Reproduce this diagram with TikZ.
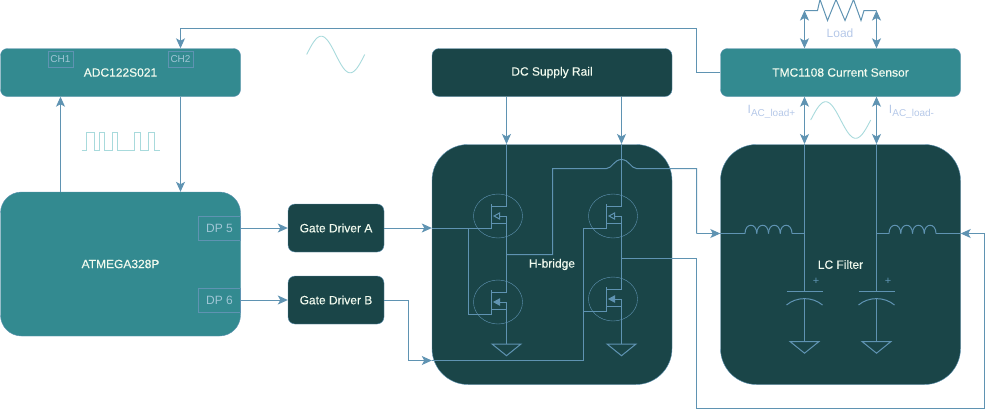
\documentclass[tikz,border=0pt]{standalone}
\usepackage{fontspec}
\setmainfont{Liberation Sans}
\newfontfamily\boxfont[FakeBold=0.25]{Liberation Sans}
\usepackage{tikz}
\usetikzlibrary{shapes.geometric, arrows.meta}
\definecolor{lightteal}{HTML}{338A90}
\definecolor{darkteal}{HTML}{1A4548}
\definecolor{wirecol}{HTML}{5F93B2}
\definecolor{wavecol}{HTML}{A8DADC}
\definecolor{labelcol}{HTML}{B5C8E8}
\definecolor{pincol}{HTML}{A0C6D6}
\definecolor{textcol}{HTML}{F1FAEE}
\tikzstyle{lightbox} = [rectangle, rounded corners=7pt, minimum width=240pt, minimum height=48pt, inner sep=0pt, text centered, draw=wirecol, fill=lightteal, text=textcol, font=\boxfont\fontsize{12}{14}\selectfont]
\tikzstyle{darkbox} = [lightbox, fill=darkteal]
\tikzstyle{mcubox} = [lightbox, rounded corners=21pt, minimum height=144pt]
\tikzstyle{driverbox} = [darkbox, minimum width=96pt]
\tikzstyle{stagebox} = [darkbox, rounded corners=36pt, minimum height=240pt]
\tikzstyle{pinbox} = [rectangle, minimum width=24.5pt, minimum height=15.5pt, inner sep=0pt, draw=wirecol, text=pincol, font=\fontsize{10}{12}\selectfont]
\tikzstyle{dpbox} = [pinbox, minimum width=42pt, minimum height=24.5pt, font=\fontsize{12}{14}\selectfont]
\tikzstyle{fetcircle} = [ellipse, minimum width=49pt, minimum height=44pt, inner sep=0pt, draw=wirecol]
\tikzstyle{loadtext} = [inner sep=0pt, text=labelcol, font=\fontsize{12}{14}\selectfont]
\tikzstyle{wire} = [draw=wirecol, line width=1pt]
\tikzstyle{arrow} = [wire, -{Stealth[length=10pt,width=9pt,inset=2.5pt]}, fill=none]
\tikzstyle{twoway} = [wire, {Stealth[length=10pt,width=9pt,inset=2.5pt]}-{Stealth[length=10pt,width=9pt,inset=2.5pt]}]
\tikzstyle{wave} = [draw=wavecol, line width=0.9pt]
\begin{document}
\begin{tikzpicture}[x=1pt, y=-1pt, node distance=48pt]
\useasboundingbox (0,0) rectangle (993,410);
% NODES
\node (adc) [lightbox] at (120.5,72.5) {ADC122S021};
\node (atmega) [mcubox, below of=adc, yshift=-143.5pt] {ATMEGA328P};
\node (supply) [darkbox, right of=adc, xshift=383.5pt] {DC Supply Rail};
\node (sensor) [lightbox, right of=supply, xshift=240.5pt] {TMC1108 Current Sensor};
\node (h-bridge) [stagebox, below of=supply, yshift=-144pt] {H-bridge};
\node (lc-filter) [stagebox, below of=sensor, yshift=-144pt] {LC Filter};
\node (driver-a) [driverbox, right of=atmega, xshift=167.5pt, yshift=36pt] {Gate Driver A};
\node (driver-b) [driverbox, below of=driver-a, yshift=-24pt] {Gate Driver B};

\node (ch-1) [pinbox] at (60.5,59) {CH1};
\node (ch-2) [pinbox] at (180.5,59) {CH2};
\node (dp-5) [dpbox] at (219.5,228) {DP 5};
\node (dp-6) [dpbox] at (219.5,300) {DP 6};

\node (load) [loadtext] at (840,33) {Load};
\node (i-plus) [loadtext] at (771.5,112) {I\raisebox{-3pt}{\fontsize{10}{12}\selectfont AC\_load+}};
\node (i-minus) [loadtext] at (911.5,112) {I\raisebox{-3pt}{\fontsize{10}{12}\selectfont AC\_load-}};

% JUNCTIONS
\coordinate (rail-a) at (506.5,144);
\coordinate (rail-b) at (621.5,144);
\coordinate (bus-a) at (804.5,144);
\coordinate (bus-b) at (876.5,144);
\coordinate (load-a) at (804.5,10.5);
\coordinate (load-b) at (876.5,10.5);
\coordinate (sense-turn) at (696.5,28.5);
\coordinate (turn-b) at (408.5,360.5);
\coordinate (branch-a) at (468.5,228);
\coordinate (branch-b) at (583.5,311);
\coordinate (out-a) at (506.5,254.5);
\coordinate (out-b) at (621.5,258.5);
\coordinate (coil-a-in) at (745,233.5);
\coordinate (coil-a-out) at (792,233.5);
\coordinate (coil-b-in) at (889,233.5);
\coordinate (coil-b-out) at (936,233.5);

% MOSFETS
\foreach \name/\x/\y/\tip in {qa-high/498/216/darkteal, qa-low/498/302/wirecol, qb-high/613/216/darkteal, qb-low/613/299/wirecol} {
  \node (\name) [fetcircle] at (\x,\y) {};
  \coordinate (\name-drain) at (\x+8.5,\y-10);
  \coordinate (\name-source) at (\x+8.5,\y);
  \coordinate (\name-gate) at (\x-6.5,\y+12);
  \draw [wire, line width=1.6pt] (\x-6.5,\y-12) -- (\x-6.5,\y+12);
  \draw [wire] (\name-drain) -- (\x-6.5,\y-10);
  \draw [wire] (\name-source) -- (\x-3,\y);
  \draw [wire] (\name-source) |- (\x-6.5,\y+7);
  \draw [wire, fill=\tip] (\x-4,\y) -- (\x+1.5,\y-3) -- (\x+1.5,\y+3) -- cycle;
}

% GROUNDS
\foreach \name/\x/\y in {ground-a/506.5/344, ground-b/621.5/344, ground-c/804.5/341.5, ground-d/876.5/341.5} {
  \coordinate (\name) at (\x,\y);
  \draw [wire] (\x-14.5,\y) -- (\x+14.5,\y) -- (\x,\y+11.7) -- cycle;
}

% CAPACITORS
\foreach \name/\x in {cap-a/804.5, cap-b/876.5} {
  \coordinate (\name-top) at (\x,291.5);
  \coordinate (\name-low) at (\x,298.7);
  \draw [wire] (\x-18,291.5) -- (\x+18,291.5);
  \draw [wire] (\x-18,305) .. controls (\x-8,296.5) and (\x+8,296.5) .. (\x+18,305);
  \node (\name-plus) [inner sep=0pt, text=wirecol, font=\fontsize{11}{12}\selectfont] at (\x+11.7,281.5) {+};
}

% COILS
\foreach \x in {745,756.75,768.5,780.25,889,900.75,912.5,924.25} {
  \draw [wire] (\x,233.5) .. controls (\x,222.5) and (\x+11.75,222.5) .. (\x+11.75,233.5);
}

% ARROWS
\draw [arrow] (atmega.north -| ch-1) -- (adc.south -| ch-1);
\draw [arrow] (adc.south -| ch-2) -- (atmega.north -| ch-2);
\draw [arrow] (sensor.west) -| (sense-turn) -| (ch-2 |- adc.north);

\draw [arrow] (dp-5.east) -- (driver-a);
\draw [arrow] (dp-6.east) -- (driver-b);
\draw [arrow] (driver-a) -- (driver-a -| h-bridge.west);
\draw [arrow] (driver-b) -| (turn-b) -- (turn-b -| h-bridge.west);

\draw [arrow] (rail-a |- supply.south) -- (rail-a);
\draw [arrow] (rail-b |- supply.south) -- (rail-b);
\draw [wire] (rail-a) -- (qa-high-drain);
\draw [wire] (rail-b) -- (qb-high-drain);
\draw [wire] (qa-high-source) -- (qa-low-drain);
\draw [wire] (qb-high-source) -- (qb-low-drain);
\draw [wire] (qa-low-source) -- (ground-a);
\draw [wire] (qb-low-source) -- (ground-b);

\draw [wire] (driver-a -| h-bridge.west) -- (qa-high-gate);
\draw [wire] (branch-a) |- (qa-low-gate);
\draw [wire] (turn-b -| h-bridge.west) -| (branch-b) -- (qb-low-gate);
\draw [wire] (branch-b) |- (qb-high-gate);

\draw [wire] (out-a) -| (552.5,168.5) -- (606.5,168.5) .. controls (612,168.5) and (614,159.5) .. (621.5,159.5) .. controls (629,159.5) and (631,168.5) .. (636.5,168.5) -- (696.5,168.5) -- (696.5,233.5);
\draw [arrow] (696.5,233.5) -- (lc-filter.west |- coil-a-in);
\draw [wire] (out-b) -| (696.5,408.5) -| (984.5,233.5);
\draw [arrow] (984.5,233.5) -- (lc-filter.east |- coil-b-in);

\draw [wire] (lc-filter.west |- coil-a-in) -- (coil-a-in);
\draw [wire] (coil-a-out) -- (bus-a |- coil-a-out);
\draw [wire] (bus-b |- coil-b-in) -- (coil-b-in);
\draw [wire] (coil-b-out) -- (lc-filter.east |- coil-b-out);

\draw [wire] (bus-a) -- (cap-a-top);
\draw [wire] (bus-b) -- (cap-b-top);
\draw [wire] (cap-a-low) -- (ground-c);
\draw [wire] (cap-b-low) -- (ground-d);

\draw [twoway] (bus-a |- sensor.south) -- (bus-a);
\draw [twoway] (bus-b |- sensor.south) -- (bus-b);
\draw [twoway] (load-a) -- (load-a |- sensor.north);
\draw [twoway] (load-b) -- (load-b |- sensor.north);
\draw [wire] (load-a) -- (817.5,10.5) -- (820,-0.5) -- (827.5,20.5) -- (836,-0.5) -- (845,20.5) -- (853.5,-0.5) -- (861,20.5) -- (864,10.5) -- (load-b);

% WAVES
\draw [wave] (81.5,150.5) -- (86,150.5) -- (86,132.5) -- (94,132.5) -- (94,150.5) -- (99.5,150.5) -- (99.5,132.5) -- (104.5,132.5) -- (104.5,150.5) -- (112.5,150.5) -- (112.5,132.5) -- (117.5,132.5) -- (117.5,150.5) -- (134.5,150.5) -- (134.5,132.5) -- (140,132.5) -- (140,150.5) -- (148.5,150.5) -- (148.5,132.5) -- (154,132.5) -- (154,150.5) -- (159.5,150.5);
\draw [wave] plot [domain=0:360, samples=50, smooth] ({306.7+\x/360*58},{54.5-18.3*sin(\x)});
\draw [wave] plot [domain=0:360, samples=50, smooth] ({810.7+\x/360*60},{120-18.3*sin(\x)});
\end{tikzpicture}
\end{document}
